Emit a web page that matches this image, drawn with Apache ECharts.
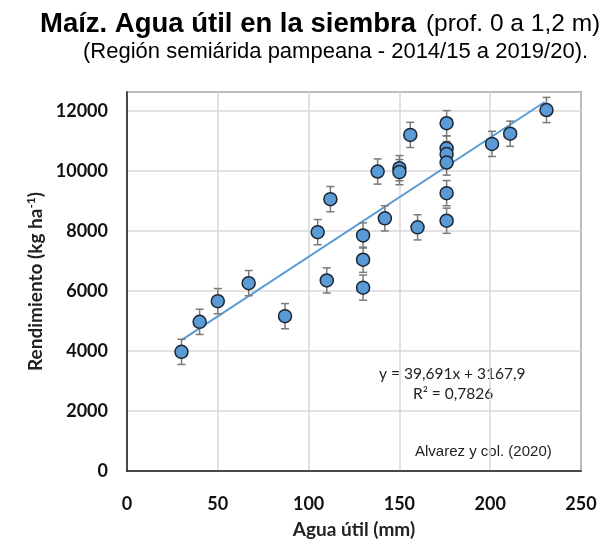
<!DOCTYPE html>
<html>
<head>
<meta charset="utf-8">
<script src="https://cdn.jsdelivr.net/npm/echarts@6/dist/echarts.min.js"></script>
<style>
  html, body { margin: 0; padding: 0; background: #fff; }
  #chart { width: 610px; height: 541px; }
</style>
</head>
<body>
<div id="chart"></div>
<script>
// agua útil (mm) y rendimiento (kg/ha)
const aguaUtil = [30, 40, 50, 67, 87, 105, 110, 112, 130, 130, 130, 138, 142, 150, 150, 156, 160, 176, 176, 176, 176, 176, 176, 201, 211, 231]
const rendimiento = [3970, 4970, 5660, 6260, 5160, 7960, 6350, 9060, 7850, 7040, 6110, 9980, 8420, 10090, 9960, 11200, 8120, 11590, 10750, 10560, 10280, 9260, 8340, 10900, 11240, 12030]
const errorBar = [420, 420, 420, 420, 420, 420, 420, 420, 420, 420, 420, 420, 420, 420, 420, 420, 420, 420, 420, 420, 420, 420, 420, 420, 420, 420]
const xTicks = [0, 50, 100, 150, 200, 250]
const yTicks = [0, 2000, 4000, 6000, 8000, 10000, 12000]

// línea de tendencia: y = 39,691x + 3167,9
const pendiente = 39.691
const ordenada = 3167.9
const tendenciaX = [30, 230]

const chart = echarts.init(document.getElementById('chart'))

const puntos = aguaUtil.map((x, i) => [x, rendimiento[i]])
const barras = aguaUtil.map((x, i) => [x, rendimiento[i] - errorBar[i], rendimiento[i] + errorBar[i]])
const tendencia = tendenciaX.map(x => [x, pendiente * x + ordenada])

chart.setOption({
  animation: false,
  title: [
    {
      text: '{b|Maíz. Agua útil en la siembra}  {n|(prof. 0 a 1,2 m)}',
      left: 40,
      top: 10,
      padding: 0,
      textStyle: {
        rich: {
          b: { fontFamily: 'Liberation Sans', fontWeight: 'bold', fontSize: 27.5, color: '#000' },
          n: { fontFamily: 'Liberation Sans', fontWeight: 'normal', fontSize: 24.5, color: '#000' }
        }
      }
    },
    {
      text: '(Región semiárida pampeana - 2014/15 a 2019/20).',
      left: 83,
      top: 41,
      padding: 0,
      textStyle: { fontFamily: 'Liberation Sans', fontWeight: 'normal', fontSize: 22, color: '#000' }
    }
  ],
  grid: {
    left: 127,
    right: 29,
    top: 92,
    bottom: 70,
    outerBoundsMode: 'none',
    show: true,
    borderColor: '#3a3a3a',
    borderWidth: 1.5
  },
  xAxis: {
    type: 'value',
    min: xTicks[0],
    max: xTicks[xTicks.length - 1],
    interval: 50,
    name: 'Agua útil (mm)',
    nameLocation: 'middle',
    nameGap: 49,
    nameTextStyle: { fontFamily: 'Lato', fontWeight: 'bold', fontSize: 19, color: '#222' },
    axisLine: { lineStyle: { color: '#222', width: 1.5 } },
    axisTick: { show: false },
    axisLabel: { margin: 24, fontFamily: 'Lato', fontWeight: 'bold', fontSize: 18, color: '#111' },
    splitLine: { lineStyle: { color: '#d9d9d9', width: 1.5 } }
  },
  yAxis: {
    type: 'value',
    min: yTicks[0],
    max: 12630,
    interval: 2000,
    name: 'Rendimiento (kg ha{sup|-1})',
    nameLocation: 'middle',
    nameGap: 72,
    nameTextStyle: {
      fontFamily: 'Lato', fontWeight: 'bold', fontSize: 19, color: '#222',
      rich: { sup: { fontFamily: 'Lato', fontWeight: 'bold', fontSize: 12, color: '#222', verticalAlign: 'top', padding: [0, 0, 9, 0] } }
    },
    axisLine: { lineStyle: { color: '#222', width: 1.5 } },
    axisTick: { show: false },
    axisLabel: {
      margin: 19, showMaxLabel: false, fontFamily: 'Lato', fontWeight: 'bold', fontSize: 18, color: '#111',
      formatter: v => String(v)
    },
    splitLine: { lineStyle: { color: '#d9d9d9', width: 1.5 } }
  },
  series: [
    {
      type: 'line',
      data: tendencia,
      symbol: 'none',
      z: 3,
      lineStyle: { color: '#5b9bd5', width: 2 }
    },
    {
      type: 'custom',
      z: 4,
      data: barras,
      renderItem: function (params, api) {
        const x = api.value(0)
        const lo = api.coord([x, api.value(1)])
        const hi = api.coord([x, api.value(2)])
        const w = 4
        const st = { stroke: '#7a7a7a', lineWidth: 1.5 }
        return {
          type: 'group',
          children: [
            { type: 'line', shape: { x1: lo[0], y1: lo[1], x2: hi[0], y2: hi[1] }, style: st },
            { type: 'line', shape: { x1: lo[0] - w, y1: lo[1], x2: lo[0] + w, y2: lo[1] }, style: st },
            { type: 'line', shape: { x1: hi[0] - w, y1: hi[1], x2: hi[0] + w, y2: hi[1] }, style: st }
          ]
        }
      }
    },
    {
      type: 'scatter',
      z: 5,
      data: puntos,
      symbol: 'circle',
      symbolSize: 13,
      itemStyle: { color: '#5b9bd5', borderColor: '#1c2633', borderWidth: 1.5, opacity: 1 }
    }
  ],
  graphic: [
    {
      type: 'text', left: 379, top: 366,
      style: { text: 'y = 39,691x + 3167,9', fontFamily: 'Lato', fontSize: 15.5, fill: '#222' }
    },
    {
      type: 'text', left: 413, top: 386,
      style: { text: 'R² = 0,7826', fontFamily: 'Lato', fontSize: 15.5, fill: '#222' }
    },
    {
      type: 'text', left: 415, top: 444,
      style: { text: 'Alvarez y col. (2020)', fontFamily: 'Liberation Sans', fontSize: 15, fill: '#222' }
    }
  ]
})
</script>
</body>
</html>
